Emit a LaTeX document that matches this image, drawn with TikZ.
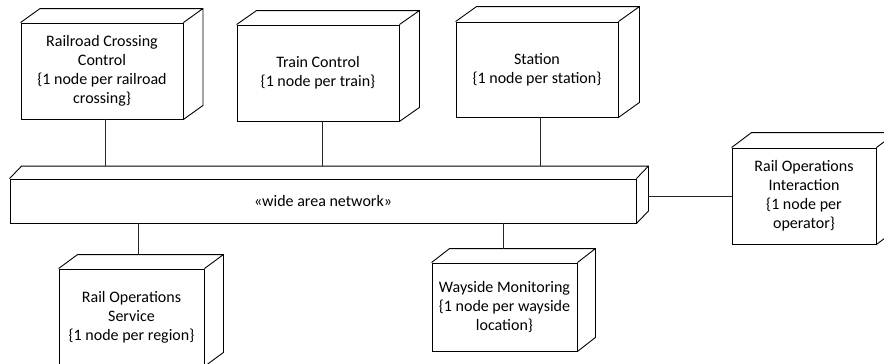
\documentclass[tikz,border=0pt]{standalone}
\usepackage{fontspec}
\setmainfont{Carlito}
\begin{document}
\begin{tikzpicture}[x=1pt,y=-1pt,
  boxline/.style={draw=black,line width=0.9pt,line join=miter},
  nodebox/.style={boxline,rectangle,align=center,inner sep=2pt,
    font=\fontsize{16}{19}\selectfont},
  link/.style={draw=black!85,line width=0.9pt}]
\useasboundingbox (0,0) rectangle (884,364);

% top and right faces of a 3D node: #1 node name, #2 depth right, #3 depth up
\newcommand\depthfaces[3]{%
  \draw[boxline] (#1.north west) -- ++(#2,-#3)
    -- ([shift={(#2,-#3)}]#1.north east)
    -- ([shift={(#2,-#3)}]#1.south east) -- (#1.south east)
    (#1.north east) -- ++(#2,-#3);}

% upper row of nodes
\node[nodebox,minimum width=162,minimum height=96] (rcc) at (102,71)
  {Railroad Crossing\\Control\\\{1 node per railroad\\crossing\}};
\depthfaces{rcc}{19.5}{14}
\node[nodebox,minimum width=162,minimum height=96] (tc) at (318,73)
  {Train Control\\\{1 node per train\}};
\depthfaces{tc}{20}{14}
\node[nodebox,minimum width=162,minimum height=95] (st) at (537,69.5)
  {Station\\\{1 node per station\}};
\depthfaces{st}{21}{15}

% network bar
\node[nodebox,minimum width=626,minimum height=44] (wan) at (323,201)
  {«wide area network»};
\depthfaces{wan}{12}{12.5}

% right-hand node
\node[nodebox,minimum width=144,minimum height=96] (roi) at (804,196)
  {Rail Operations\\Interaction\\\{1 node per\\operator\}};
\depthfaces{roi}{20}{15}

% lower row of nodes
\node[nodebox,minimum width=145,minimum height=97] (ros) at (131.5,317.5)
  {Rail Operations\\Service\\\{1 node per region\}};
\depthfaces{ros}{19}{14}
\node[nodebox,minimum width=145,minimum height=88] (wm) at (504.5,307)
  {Wayside Monitoring\\\{1 node per wayside\\location\}};
\depthfaces{wm}{18}{14}

% connectors to the network
\coordinate (wantop) at ([yshift=12.5pt]wan.north);
\draw[link] ([xshift=3pt]rcc.south) -- ([xshift=3pt]rcc.south |- wantop);
\draw[link] ([xshift=4pt]tc.south) -- ([xshift=4pt]tc.south |- wantop);
\draw[link] ([xshift=3pt]st.south) -- ([xshift=3pt]st.south |- wantop);
\draw[link] ([xshift=6.5pt]ros.north |- wan.south) -- ([xshift=6.5pt,yshift=14pt]ros.north);
\draw[link] ([xshift=-1.5pt]wm.north |- wan.south) -- ([xshift=-1.5pt,yshift=14pt]wm.north);
\draw[link] ([xshift=12pt]wan.east |- roi.west) -- (roi.west);
\end{tikzpicture}
\end{document}
